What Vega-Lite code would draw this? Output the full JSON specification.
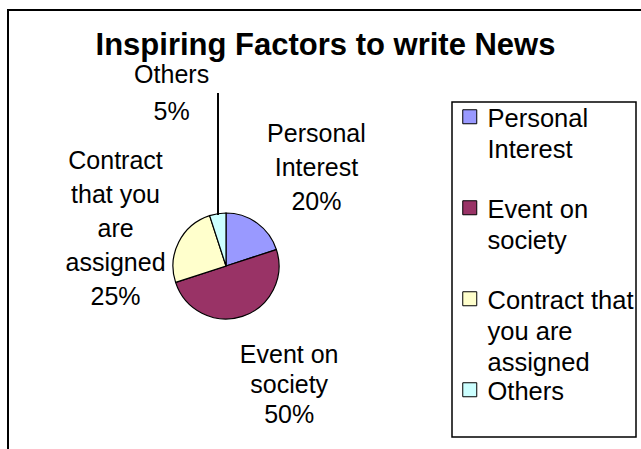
{
  "$schema": "https://vega.github.io/schema/vega-lite/v6.json",
  "width": 643,
  "height": 449,
  "autosize": {"type": "none"},
  "padding": {"left": 8, "top": 10, "right": -10, "bottom": -10},
  "background": "white",
  "title": {
    "text": "Inspiring Factors to write News",
    "font": "Liberation Sans",
    "fontSize": 31,
    "fontWeight": "bold",
    "color": "black",
    "anchor": "middle",
    "frame": "group",
    "baseline": "alphabetic",
    "offset": -76,
    "dx": -4
  },
  "data": {
    "values": [
      {"cat": "Personal Interest", "value": 20, "ord": 1, "label": "Personal\nInterest\n20%"},
      {"cat": "Event on society", "value": 50, "ord": 2, "label": "Event on\nsociety\n50%"},
      {"cat": "Contract that you are assigned", "value": 25, "ord": 3, "label": "Contract\nthat you\nare\nassigned\n25%"},
      {"cat": "Others", "value": 5, "ord": 4, "label": "Others\n5%"}
    ]
  },
  "layer": [
    {
      "mark": {"type": "arc", "outerRadius": 53, "stroke": "black", "strokeWidth": 1.2, "x": 218, "y": 256},
      "encoding": {
        "theta": {"field": "value", "type": "quantitative", "stack": true},
        "order": {"field": "ord", "type": "quantitative"},
        "color": {
          "field": "cat",
          "type": "nominal",
          "scale": {
            "domain": ["Personal Interest", "Event on society", "Contract that you are assigned", "Others"],
            "range": ["#9999FF", "#993366", "#FFFFCC", "#CCFFFF"]
          },
          "legend": {
            "orient": "none",
            "legendX": 444,
            "legendY": 92,
            "direction": "vertical",
            "title": " ",
            "titleOrient": "bottom",
            "titleFontSize": 20,
            "titlePadding": 10,
            "fillColor": "white",
            "strokeColor": "black",
            "padding": 2,
            "symbolType": "square",
            "symbolSize": 196,
            "symbolOffset": 3,
            "symbolStrokeColor": "black",
            "symbolStrokeWidth": 1,
            "symbolOpacity": 1,
            "labelFont": "Liberation Sans",
            "labelFontSize": 25.5,
            "labelColor": "black",
            "labelLimit": 400,
            "labelOffset": 5,
            "labelBaseline": "top",
            "gridAlign": "all",
            "rowPadding": -15,
            "labelExpr": "datum.label == 'Personal Interest' ? ['Personal', 'Interest'] : datum.label == 'Event on society' ? ['Event on', 'society'] : datum.label == 'Contract that you are assigned' ? ['Contract that', 'you are', 'assigned'] : datum.label",
            "encoding": {"labels": {"dy": {"value": -10}, "lineHeight": {"value": 31}}, "legend": {"strokeWidth": {"value": 1.5}}}
          }
        }
      }
    },
    {
      "mark": {"type": "text", "x": 218, "y": 256, "radius": 130, "dx": 14, "dy": -27, "font": "Liberation Sans", "fontSize": 25, "lineBreak": "\n", "lineHeight": 34, "align": "center", "baseline": "middle", "color": "black"},
      "encoding": {
        "theta": {"field": "value", "type": "quantitative", "stack": true},
        "order": {"field": "ord", "type": "quantitative"},
        "text": {"field": "label"},
        "opacity": {"condition": {"test": "datum.cat == 'Personal Interest'", "value": 1}, "value": 0}
      }
    },
    {
      "mark": {"type": "text", "x": 218, "y": 256, "radius": 130, "dx": 23, "dy": -35, "font": "Liberation Sans", "fontSize": 25, "lineBreak": "\n", "lineHeight": 30, "align": "center", "baseline": "middle", "color": "black"},
      "encoding": {
        "theta": {"field": "value", "type": "quantitative", "stack": true},
        "order": {"field": "ord", "type": "quantitative"},
        "text": {"field": "label"},
        "opacity": {"condition": {"test": "datum.cat == 'Event on society'", "value": 1}, "value": 0}
      }
    },
    {
      "mark": {"type": "text", "x": 218, "y": 256, "radius": 115, "dx": -8, "dy": -53, "font": "Liberation Sans", "fontSize": 25, "lineBreak": "\n", "lineHeight": 34, "align": "center", "baseline": "middle", "color": "black"},
      "encoding": {
        "theta": {"field": "value", "type": "quantitative", "stack": true},
        "order": {"field": "ord", "type": "quantitative"},
        "text": {"field": "label"},
        "opacity": {"condition": {"test": "datum.cat == 'Contract that you are assigned'", "value": 1}, "value": 0}
      }
    },
    {
      "mark": {"type": "text", "x": 218, "y": 256, "radius": 175, "dx": -27, "dy": -18, "font": "Liberation Sans", "fontSize": 25, "lineBreak": "\n", "lineHeight": 37, "align": "center", "baseline": "middle", "color": "black"},
      "encoding": {
        "theta": {"field": "value", "type": "quantitative", "stack": true},
        "order": {"field": "ord", "type": "quantitative"},
        "text": {"field": "label"},
        "opacity": {"condition": {"test": "datum.cat == 'Others'", "value": 1}, "value": 0}
      }
    },
    {
      "data": {"values": [{"seg": "others-vertical"}, {"seg": "others-tick"}, {"seg": "contract"}]},
      "mark": {"type": "rule", "stroke": "black", "strokeWidth": 1.5},
      "encoding": {
        "x": {"condition": {"test": "datum.seg == 'contract'", "value": 164}, "value": 210},
        "y": {"condition": {"test": "datum.seg == 'contract'", "value": 216}, "value": 83},
        "x2": {"condition": [{"test": "datum.seg == 'contract'", "value": 172}, {"test": "datum.seg == 'others-tick'", "value": 205}], "value": 210},
        "y2": {"condition": [{"test": "datum.seg == 'contract'", "value": 236}, {"test": "datum.seg == 'others-tick'", "value": 83}], "value": 205}
      }
    }
  ],
  "config": {
    "view": {"stroke": "black", "strokeWidth": 2, "fill": "white"},
    "style": {"guide-label": {"lineHeight": 31}}
  }
}
